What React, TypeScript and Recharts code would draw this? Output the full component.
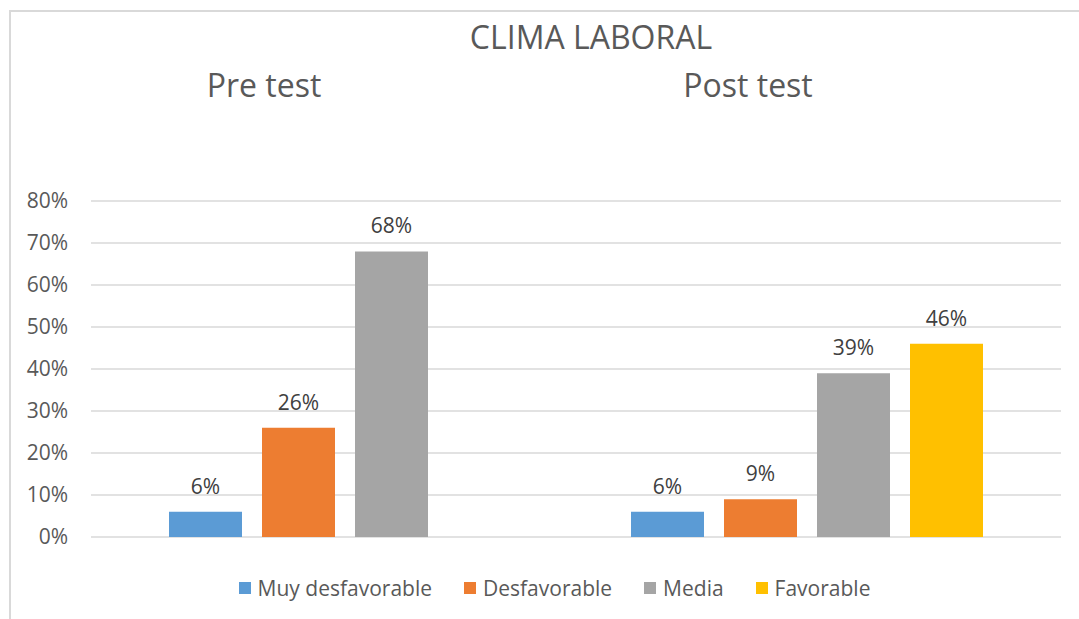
import {
  BarChart,
  Bar,
  XAxis,
  YAxis,
  CartesianGrid,
  Legend,
  LabelList
} from "recharts";

const categories = ["Pre test", "Post test"];
const muyDesfavorable = [6, 6];
const desfavorable = [26, 9];
const media = [68, 39];
const favorable: (number | null)[] = [null, 46];
const yTicks = [0, 10, 20, 30, 40, 50, 60, 70, 80];

const seriesNames = ["Muy desfavorable", "Desfavorable", "Media", "Favorable"];
const seriesValues = [muyDesfavorable, desfavorable, media, favorable];
const colors = ["#5B9BD5", "#ED7D31", "#A5A5A5", "#FFC000"];

const chartData = categories.map((cat, i) => {
  const row: Record<string, string | number | null> = { name: cat };
  seriesNames.forEach((s, k) => {
    row[s] = seriesValues[k][i];
  });
  return row;
});

const FONT = "'Open Sans', sans-serif";

// category labels sit high above the plot, a bit left of the bar groups
const CategoryTick = (props: any) => {
  const { x, y, payload, index } = props;
  const dx = index === 0 ? -81 : -59;
  return (
    <text
      x={x + dx}
      y={y}
      dy={-104}
      textAnchor="middle"
      fontSize={32}
      fill="#595959"
      fontFamily={FONT}
    >
      {payload.value}
    </text>
  );
};

const LegendContent = (props: any) => {
  // keep series order (recharts sorts the payload by name)
  const items = [...(props.payload || [])].sort(
    (a: any, b: any) => seriesNames.indexOf(a.value) - seriesNames.indexOf(b.value)
  );
  return (
    <div
      style={{
        height: 66,
        paddingTop: 38,
        paddingLeft: 17,
        boxSizing: "border-box",
        display: "flex",
        justifyContent: "center",
        alignItems: "flex-start",
        fontFamily: FONT,
        fontSize: 21,
        color: "#595959"
      }}
    >
      {items.map((it: any, i: number) => (
        <div
          key={it.value}
          style={{
            display: "flex",
            alignItems: "center",
            marginLeft: i === 0 ? 0 : 32,
            height: 26
          }}
        >
          <span
            style={{
              width: 12,
              height: 12,
              background: it.color,
              marginRight: 7,
              display: "inline-block"
            }}
          />
          <span>{it.value}</span>
        </div>
      ))}
    </div>
  );
};

export default function App() {
  return (
    <div style={{ position: "absolute", left: 0, top: 0, width: 1079, height: 619, background: "#fff" }}>
      <div
        style={{
          position: "absolute",
          left: 9,
          top: 10,
          width: 1070,
          height: 609,
          borderLeft: "2px solid #D9D9D9",
          borderTop: "2px solid #D9D9D9"
        }}
      />
      <div
        style={{
          position: "absolute",
          left: 391,
          top: 18,
          width: 400,
          textAlign: "center",
          fontFamily: FONT,
          fontSize: 32,
          lineHeight: "38px",
          color: "#595959"
        }}
      >
        CLIMA LABORAL
      </div>
      <BarChart
        width={1079}
        height={619}
        data={chartData}
        margin={{ top: 60, right: 18, left: 31, bottom: 16 }}
        barSize={73}
        barGap={20}
        style={{ fontFamily: FONT }}
      >
        <CartesianGrid vertical={false} stroke="#D9D9D9" strokeWidth={1.3} />
        <XAxis
          dataKey="name"
          orientation="top"
          height={141}
          axisLine={false}
          tickLine={false}
          tickSize={0}
          tickMargin={0}
          padding={{ left: 23, right: 23 }}
          tick={<CategoryTick />}
        />
        <YAxis
          type="number"
          domain={[0, 80]}
          ticks={yTicks}
          width={60}
          axisLine={false}
          tickLine={false}
          tickSize={0}
          tickMargin={23}
          tick={{ fontSize: 21, fill: "#595959", fontFamily: FONT }}
          tickFormatter={(v: number) => `${v}%`}
        />
        <Legend verticalAlign="bottom" content={<LegendContent />} />
        {seriesNames.map((s, idx) => (
          <Bar key={s} dataKey={s} fill={colors[idx]} isAnimationActive={false}>
            <LabelList
              dataKey={s}
              position="top"
              offset={18}
              fill="#404040"
              fontSize={21}
              fontFamily={FONT}
              formatter={(v: any) => (v == null ? "" : `${v}%`)}
            />
          </Bar>
        ))}
      </BarChart>
    </div>
  );
}
